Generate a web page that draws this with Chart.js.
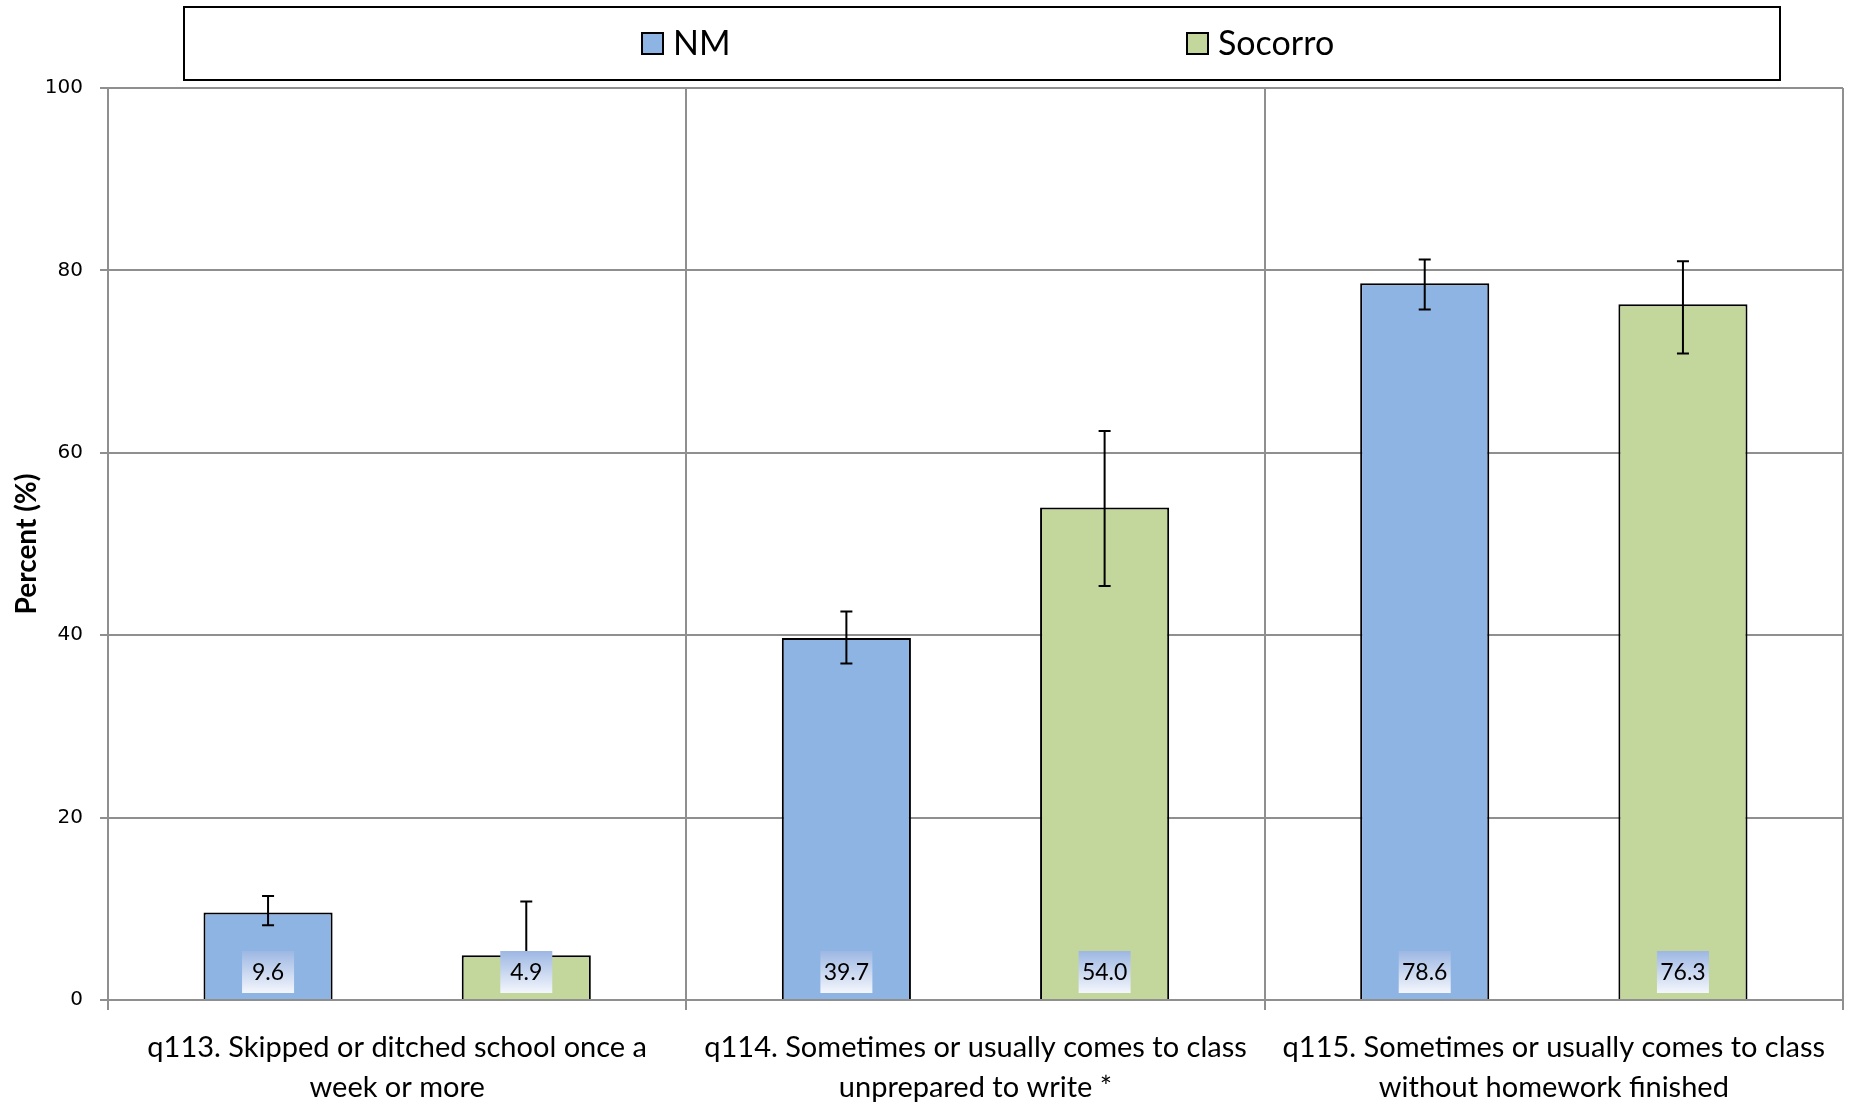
<!DOCTYPE html>
<html>
<head>
<meta charset="utf-8">
<script src="https://cdn.jsdelivr.net/npm/chart.js@4/dist/chart.umd.min.js"></script>
<style>
body { margin: 0; background: #fff; }
</style>
</head>
<body>
<canvas id="myChart" width="1855" height="1105"></canvas>
<script>
// chart data
const categories = [
    ["q113. Skipped or ditched school once a", "week or more"],
    ["q114. Sometimes or usually comes to class", "unprepared to write *"],
    ["q115. Sometimes or usually comes to class", "without homework finished"]
];
const nmValues = [9.6, 39.7, 78.6];
const nmLow = [8.2, 36.9, 75.7];
const nmHigh = [11.4, 42.6, 81.2];
const socorroValues = [4.9, 54.0, 76.3];
const socorroLow = [2.4, 45.4, 70.9];
const socorroHigh = [10.8, 62.4, 81.0];
const yTicks = [0, 20, 40, 60, 80, 100];

const errors = [[nmLow, nmHigh], [socorroLow, socorroHigh]];

// error bars + value boxes
const extras = {
    id: 'extras',
    afterDatasetsDraw(chart) {
        const ctx = chart.ctx;
        const y = chart.scales.y;
        ctx.save();
        ctx.strokeStyle = '#000';
        ctx.lineWidth = 2;
        chart.data.datasets.forEach((ds, i) => {
            chart.getDatasetMeta(i).data.forEach((bar, j) => {
                let top = y.getPixelForValue(errors[i][1][j]);
                let bottom = y.getPixelForValue(errors[i][0][j]);
                ctx.beginPath();
                ctx.moveTo(bar.x, top);
                ctx.lineTo(bar.x, bottom);
                ctx.moveTo(bar.x - 6, top);
                ctx.lineTo(bar.x + 6, top);
                ctx.moveTo(bar.x - 6, bottom);
                ctx.lineTo(bar.x + 6, bottom);
                ctx.stroke();
            });
        });
        const base = y.getPixelForValue(0);
        ctx.font = '23px Lato';
        ctx.textAlign = 'center';
        ctx.textBaseline = 'middle';
        chart.data.datasets.forEach((ds, i) => {
            chart.getDatasetMeta(i).data.forEach((bar, j) => {
                let bTop = base - 49;
                let grad = ctx.createLinearGradient(0, bTop, 0, bTop + 42);
                grad.addColorStop(0, '#9db7e3');
                grad.addColorStop(1, '#f4f6fc');
                ctx.fillStyle = grad;
                ctx.fillRect(bar.x - 26, bTop, 52, 42);
                ctx.fillStyle = '#000';
                ctx.fillText(ds.data[j].toFixed(1), bar.x, bTop + 22);
            });
        });
        ctx.restore();
    }
};

// legend inside a framed box
const legendBox = {
    id: 'legendBox',
    afterDraw(chart) {
        const ctx = chart.ctx;
        ctx.save();
        ctx.strokeStyle = '#000';
        ctx.lineWidth = 2;
        ctx.strokeRect(184, 7, 1596, 73);
        const xs = [642, 1187];
        ctx.font = '34px Lato';
        ctx.textBaseline = 'middle';
        chart.data.datasets.forEach((ds, i) => {
            ctx.fillStyle = ds.backgroundColor;
            ctx.fillRect(xs[i], 33, 21, 21);
            ctx.strokeRect(xs[i], 33, 21, 21);
            ctx.fillStyle = '#000';
            ctx.fillText(ds.label, xs[i] + 31, 44);
        });
        ctx.restore();
    }
};

const ctx = document.getElementById('myChart');
new Chart(ctx, {
    type: 'bar',
    data: {
        labels: categories,
        datasets: [{
            label: 'NM',
            data: nmValues,
            backgroundColor: '#8eb4e3',
            borderColor: '#000',
            borderWidth: 2
        }, {
            label: 'Socorro',
            data: socorroValues,
            backgroundColor: '#c3d69b',
            borderColor: '#000',
            borderWidth: 2
        }]
    },
    options: {
        responsive: false,
        animation: false,
        categoryPercentage: 0.893,
        barPercentage: 0.5,
        layout: { padding: { top: 88, right: 12, left: 0, bottom: 0 } },
        plugins: {
            legend: { display: false },
            tooltip: { enabled: false }
        },
        scales: {
            x: {
                afterFit: s => { s.height = 105; },
                grid: { color: '#8f8f8f', lineWidth: 2, tickLength: 10 },
                border: { color: '#8f8f8f', width: 2 },
                ticks: {
                    color: '#000',
                    padding: 18,
                    maxRotation: 0,
                    autoSkip: false,
                    font: { family: 'Lato', size: 29, lineHeight: 1.36 }
                }
            },
            y: {
                min: 0,
                max: 100,
                afterFit: s => { s.width = 108; },
                afterBuildTicks: s => { s.ticks = yTicks.map(v => ({ value: v })); },
                grid: { color: '#8f8f8f', lineWidth: 2, tickLength: 8 },
                border: { color: '#8f8f8f', width: 2 },
                title: {
                    display: true,
                    text: 'Percent (%)',
                    color: '#000',
                    padding: { top: 10, bottom: 0 },
                    font: { family: 'Lato', size: 28, weight: 'bold' }
                },
                ticks: {
                    color: '#000',
                    padding: 17,
                    font: { family: 'DejaVu Sans', size: 20 }
                }
            }
        }
    },
    plugins: [extras, legendBox]
});
</script>
</body>
</html>
